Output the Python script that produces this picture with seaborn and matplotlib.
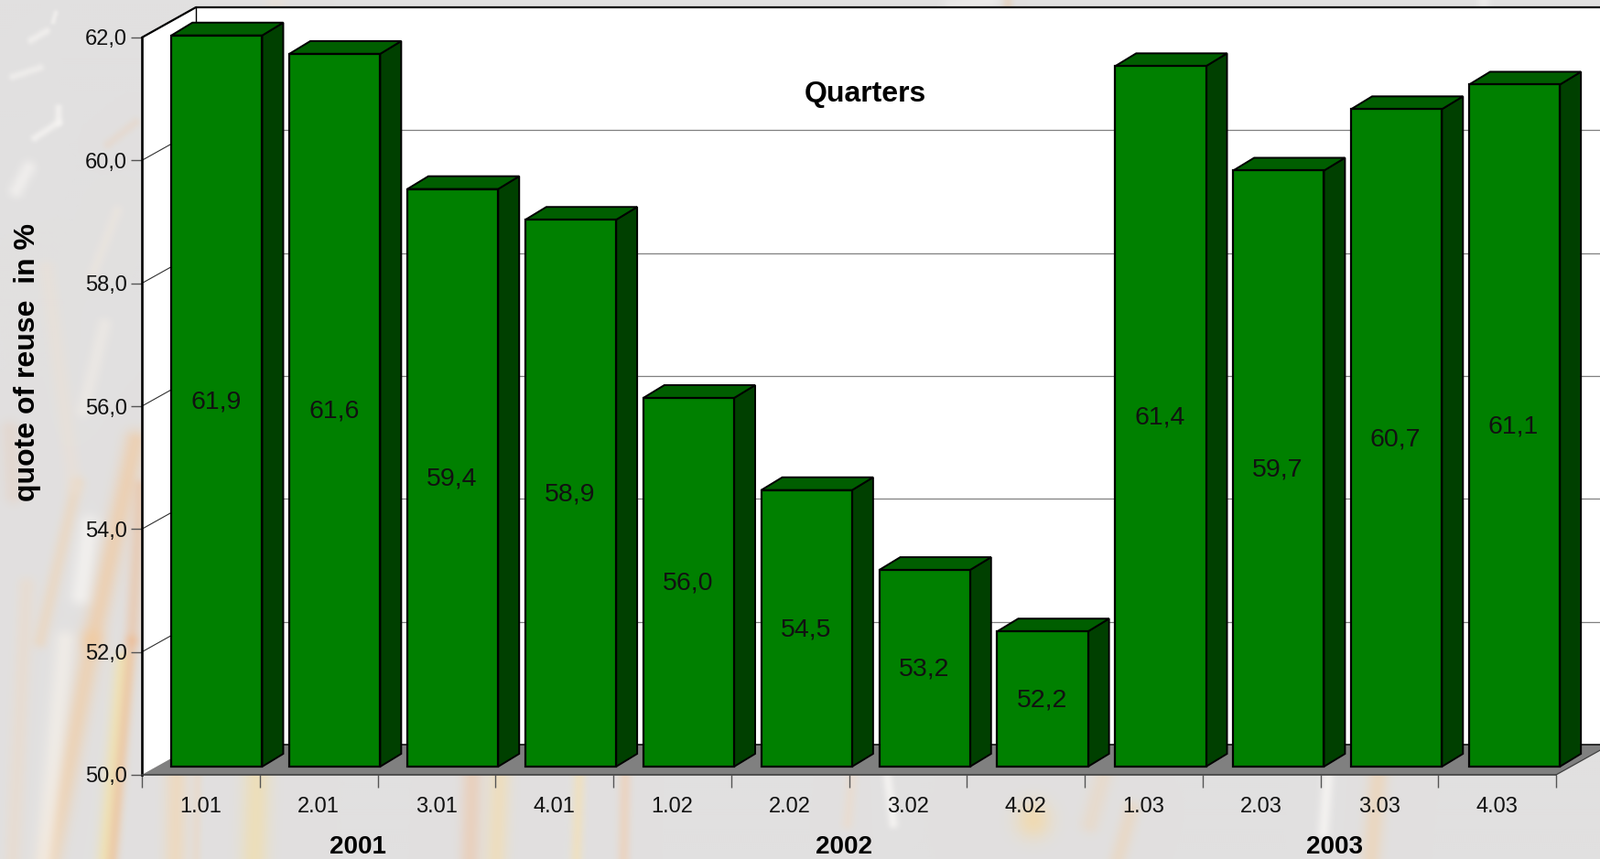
import matplotlib
matplotlib.use("Agg")
import matplotlib.pyplot as plt
import seaborn as sns
import numpy as np
import pandas as pd
from matplotlib.colors import to_rgb
from matplotlib.patches import Polygon
from matplotlib.lines import Line2D
from matplotlib.transforms import IdentityTransform

# ---- data -------------------------------------------------------------
quarters = ["1.01", "2.01", "3.01", "4.01", "1.02", "2.02", "3.02", "4.02",
            "1.03", "2.03", "3.03", "4.03"]
reuse = [61.9, 61.6, 59.4, 58.9, 56.0, 54.5, 53.2, 52.2, 61.4, 59.7, 60.7, 61.1]
y_ticks = [50, 52, 54, 56, 58, 60, 62]
years = ["2001", "2002", "2003"]
year_px = [391, 922, 1458]

# decorative faded backdrop: x0, y0, x1, y1, softness(px), colour, strength
streaks = [
    (147, 482, 100, 700, 9, "#f2c79a", .75), (100, 700, 50, 960, 9, "#f3c99a", .7),
    (133, 721, 112, 960, 7, "#f6e3a0", .75), (83, 528, 43, 700, 6, "#f0d2b0", .6),
    (153, 532, 143, 700, 6, "#eeb88c", .55), (143, 700, 120, 960, 5, "#efb78a", .6),
    (70, 700, 45, 960, 8, "#f6f1ea", .8), (97, 574, 87, 650, 8, "#f7f5f2", .9),
    (113, 355, 90, 448, 6, "#f1ece6", .7), (50, 293, 80, 532, 7, "#ece0d4", .6),
    (28, 640, 12, 960, 7, "#f0d8c0", .5), (10, 470, 14, 540, 8, "#e6cdbc", .5),
    (60, 13, 57, 23, 2, "#f4f2f0", .9), (50, 33, 33, 43, 3, "#f4f2f0", .9),
    (43, 73, 13, 83, 3, "#f4f2f0", .8), (63, 117, 63, 133, 3, "#f6f4f2", .9),
    (63, 133, 37, 150, 3, "#f6f4f2", .9), (30, 183, 17, 207, 6, "#f4f2f0", .9),
    (147, 133, 117, 157, 4, "#e8d4c4", .6), (127, 230, 100, 300, 5, "#ede6de", .7),
    (192, 845, 190, 960, 9, "#f5d5ab", .7), (215, 845, 213, 960, 4, "#f2d2b0", .4),
    (280, 845, 276, 960, 11, "#f5dd9e", .7), (515, 845, 512, 960, 8, "#f0c19c", .6),
    (545, 845, 540, 960, 9, "#f6dca8", .7), (632, 845, 628, 960, 5, "#f7e0b0", .7),
    (682, 845, 680, 960, 5, "#f3c9a6", .6), (930, 845, 925, 900, 5, "#f2d8c0", .5),
    (968, 845, 975, 900, 4, "#f9f7f5", .9), (1128, 895, 1128, 897, 14, "#f6d8a0", .85),
    (1205, 845, 1190, 900, 8, "#f0d2b0", .45), (1235, 885, 1215, 960, 7, "#f1cfa8", .5),
    (1450, 845, 1445, 910, 5, "#f9f7f5", .9), (1505, 845, 1495, 960, 8, "#f2cfa6", .65),
    (1620, 0, 1620, 8, 5, "#f7f5f3", .6), (1080, 0, 1040, 8, 8, "#f7f5f3", .6),
    (300, 0, 300, 8, 8, "#f0ded0", .5), (1100, 0, 1100, 8, 4, "#e8c4a0", .5),
]

# ---- geometry ----------------------------------------------------------
W, H = 1748, 939
sns.set_theme(style="white")
plt.rcParams["font.family"] = ["Liberation Sans", "DejaVu Sans"]
fig = plt.figure(figsize=(W / 100, H / 100), dpi=100)


def frac(left, top, right, bottom):
    return [left / W, 1 - bottom / H, (right - left) / W, (bottom - top) / H]


def backdrop(step=2):
    xs, ys = np.meshgrid(np.arange(0, W, step), np.arange(0, H, step))
    img = np.empty(xs.shape + (3,))
    img[...] = to_rgb("#e1e0e0")
    for x0, y0, x1, y1, soft, col, strength in streaks:
        dx, dy = x1 - x0, y1 - y0
        t = np.clip(((xs - x0) * dx + (ys - y0) * dy) / (dx * dx + dy * dy), 0, 1)
        dist2 = (xs - x0 - t * dx) ** 2 + (ys - y0 - t * dy) ** 2
        alpha = 0.8 * strength * np.exp(-dist2 / (2 * soft * soft))
        img = img * (1 - alpha[..., None]) + np.array(to_rgb(col)) * alpha[..., None]
    return img


bg = fig.add_axes([0, 0, 1, 1], zorder=0)
bg.imshow(backdrop(), extent=(0, W, H, 0), aspect="auto", interpolation="bilinear")
bg.axis("off")

# front plane of the chart: carries the axis ticks and labels
ax = fig.add_axes(frac(155, 41, 1700, 847), zorder=1)
ax.patch.set_visible(False)
ax.set_xlim(-0.5, len(quarters) - 0.5)
ax.set_ylim(50, 62)
ax.set_yticks(y_ticks)
ax.set_yticklabels([f"{v:.1f}".replace(".", ",") for v in y_ticks], fontsize=17, color="#111111")
ax.set_xticks([i - 0.5 for i in range(len(quarters) + 1)])
ax.set_xticklabels([])
ax.set_xticks(range(len(quarters)), minor=True)
ax.set_xticklabels(quarters, minor=True, fontsize=17, color="#111111")
ax.tick_params(axis="x", which="major", length=10, width=1, color="#555555", bottom=True)
ax.tick_params(axis="x", which="minor", length=0, pad=17, bottom=False)
ax.tick_params(axis="y", which="major", length=8.6, width=1, color="#555555", pad=3, left=True)
for s in ("top", "right"):
    ax.spines[s].set_visible(False)
ax.spines["left"].set_color("black")
ax.spines["left"].set_linewidth(1.9)
ax.spines["bottom"].set_color("#404040")
ax.spines["bottom"].set_linewidth(1.2)
ax.set_ylabel("")

# pixel depth from the front plane to the back wall (display y points up)
BACK_DX, BACK_DY = 59, 33
px = IdentityTransform()
front = ax.transData.transform
x_lo, x_hi = ax.get_xlim()


def add_poly(a, pts, fc, z, ec="none", lw=0):
    a.add_patch(Polygon(pts, closed=True, facecolor=fc, edgecolor=ec, linewidth=lw,
                        transform=px, clip_on=False, zorder=z, joinstyle="miter"))


def add_line(a, pts, col, lw, z):
    xs, ys = zip(*pts)
    a.add_line(Line2D(xs, ys, color=col, lw=lw, transform=px, clip_on=False, zorder=z))


fl, ft = front((x_lo, 50)), front((x_lo, 62))
fr = front((x_hi, 50))


def back(p):
    return (p[0] + BACK_DX, p[1] + BACK_DY)


# left wall and back wall
add_poly(ax, [fl, ft, back(ft), back(fl)], "white", 0.5)
add_poly(ax, [back(fl), back(ft), (W + 20, back(ft)[1]), (W + 20, back(fl)[1])], "white", 0.5)
# grid lines
for v in y_ticks[1:-1]:
    p = front((x_lo, v))
    add_line(ax, [p, back(p)], "#303030", 0.8, 0.8)
    add_line(ax, [back(p), (W + 20, back(p)[1])], "#808080", 0.9, 0.8)
# top edges of the walls
add_line(ax, [ft, back(ft), (W + 20, back(ft)[1])], "black", 1.6, 1.0)
add_line(ax, [back(ft), back(fl)], "black", 1.0, 0.9)
# floor
add_poly(ax, [fl, fr, back(fr), back(fl)], "#808080", 1.2)
add_line(ax, [back(fl), back(fr)], "#202020", 1.3, 1.3)
add_line(ax, [fr, back(fr)], "#404040", 0.9, 1.3)

# plane of the bar fronts
bar_ax = fig.add_axes(frac(172.4, 32, 1719.0, 838), zorder=2)
df = pd.DataFrame({"quarter": quarters, "reuse": reuse})
sns.barplot(data=df, x="quarter", y="reuse", ax=bar_ax, color="#008000", saturation=1,
            width=0.77, edgecolor="black", linewidth=1.6, zorder=5)
bar_ax.set_xlim(-0.5, len(quarters) - 0.5)
bar_ax.set_ylim(50, 62)
bar_ax.axis("off")

DX, DY = 23, 14
to_px = bar_ax.transData.transform
container = bar_ax.containers[0]
for patch in container:
    top = patch.get_height()
    patch.set_y(50)
    patch.set_height(top - 50)
    patch.set_clip_on(False)
    x0, x1 = patch.get_x(), patch.get_x() + patch.get_width()
    a, b = to_px((x0, top)), to_px((x1, top))
    c = to_px((x1, 50))
    add_poly(bar_ax, [b, c, (c[0] + DX, c[1] + DY), (b[0] + DX, b[1] + DY)], "#004000", 4,
             ec="black", lw=1.4)
    add_poly(bar_ax, [a, b, (b[0] + DX, b[1] + DY), (a[0] + DX, a[1] + DY)], "#005e00", 4,
             ec="black", lw=1.4)

texts = bar_ax.bar_label(container, labels=[f"{v:.1f}".replace(".", ",") for v in reuse],
                         label_type="center", fontsize=20.5, color="#111111", zorder=6)
for t in texts:
    t.set_position((-0.7, -1))

# free text
fig.text(945 / W, 1 - 102.5 / H, "Quarters", ha="center", va="center", fontsize=23,
         fontweight="bold", color="black", zorder=5)
fig.text(30 / W, 1 - 396 / H, "quote of reuse  in %", rotation=90, ha="center", va="center",
         fontsize=23, fontweight="bold", color="black", zorder=5)
for label, xp in zip(years, year_px):
    fig.text(xp / W, 1 - 926 / H, label, ha="center", va="center", fontsize=20,
             fontweight="bold", color="black", zorder=5)

fig.savefig("out.png", dpi=100)
